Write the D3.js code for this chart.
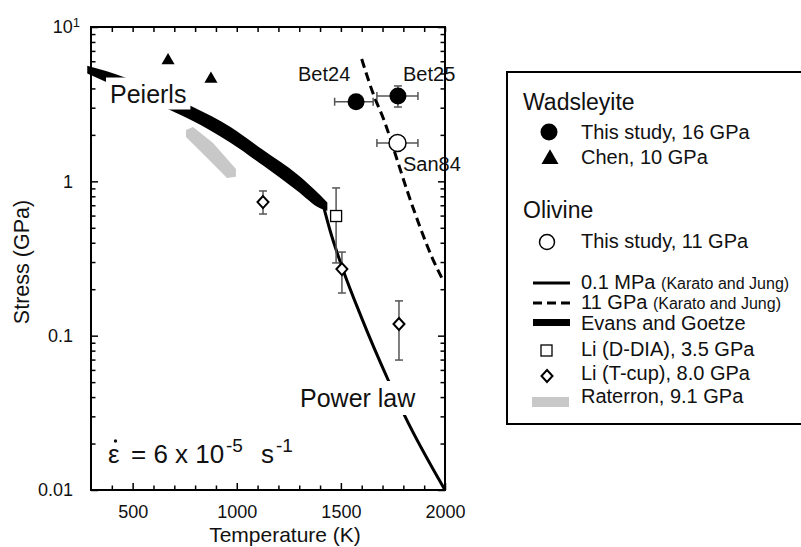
<!DOCTYPE html>
<html>
<head>
<meta charset="utf-8">
<script src="https://cdn.jsdelivr.net/npm/d3@7"></script>
<style>
  body { margin: 0; background: #fff; }
  svg { display: block; }
  text { font-family: "Liberation Sans", Arial, Helvetica, sans-serif; fill: #111; }
</style>
</head>
<body>
<svg id="chart" width="801" height="547"></svg>
<script>
// ---- data ----
const tempTicks = [500, 1000, 1500, 2000];
const tempMinorTicks = [400, 600, 700, 800, 900, 1100, 1200, 1300, 1400, 1600, 1700, 1800, 1900];
const stressTicks = [0.01, 0.1, 1, 10];
const stressTickLabels = ["0.01", "0.1", "1", "10"];

// Wadsleyite, this study (16 GPa)
const wadsThisStudy = [
  { name: "Bet24", T: 1573, s: 3.28, tLo: 1470, tHi: 1655 },
  { name: "Bet25", T: 1774, s: 3.57, tLo: 1673, tHi: 1870, sLo: 3.03, sHi: 4.15 }
];
// Wadsleyite, Chen (10 GPa)
const wadsChen = [[670, 6.07], [876, 4.6]];
// Olivine, this study (11 GPa)
const olivThisStudy = [{ name: "San84", T: 1772, s: 1.77, tLo: 1673, tHi: 1870 }];
// Karato and Jung flow laws
const kj01MPa = [[1415, 0.70], [1448, 0.48], [1505, 0.28], [1600, 0.13], [1726, 0.052], [1808, 0.030], [2000, 0.010]];
const kj11GPa = [[1600, 6.2], [1654, 3.73], [1712, 2.39], [1760, 1.52], [1817, 0.88], [1880, 0.506], [1937, 0.323], [1985, 0.236]];
// Evans and Goetze (Peierls) band
const egT    = [282, 470, 630, 785, 970, 1125, 1290, 1400, 1435];
const egHigh = [5.6, 4.68, 3.8, 3.05, 2.25, 1.6, 1.11, 0.815, 0.73];
const egLow  = [5.0, 3.86, 3.10, 2.48, 1.78, 1.27, 0.87, 0.67, 0.645];
// Li (D-DIA, 3.5 GPa) and Li (T-cup, 8.0 GPa)
const liDDIA = [{ T: 1477, s: 0.596, sLo: 0.296, sHi: 0.906 }];
const liTcup = [
  { T: 1126, s: 0.734, sLo: 0.614, sHi: 0.866 },
  { T: 1505, s: 0.27,  sLo: 0.189, sHi: 0.348 },
  { T: 1779, s: 0.119, sLo: 0.0695, sHi: 0.168 }
];
// Raterron (9.1 GPa) band outline
const raterronOutline = [[756, 2.15], [790, 2.25], [886, 1.77], [996, 1.20], [996, 1.07], [953, 1.05], [857, 1.42], [756, 1.94]];

// ---- layout ----
const svg = d3.select("#chart");
const x = d3.scaleLinear().domain([300, 2000]).range([91, 445]);
const y = d3.scaleLog().domain([0.01, 10]).range([490, 27]);
const stressMinor = [];
[0.01, 0.1, 1].forEach(dec => { for (let k = 2; k <= 9; k++) stressMinor.push(+(dec * k).toPrecision(3)); });

const plot = svg.append("g");

// Evans and Goetze band
const egData = egT.map((t, i) => ({ t, hi: egHigh[i], lo: egLow[i] }));
plot.append("path")
  .datum(egData)
  .attr("d", d3.area().curve(d3.curveMonotoneX).x(d => x(d.t)).y0(d => y(d.lo)).y1(d => y(d.hi)))
  .attr("fill", "#000");

// Raterron band
plot.append("path")
  .attr("d", d3.line().x(d => x(d[0])).y(d => y(d[1]))(raterronOutline) + "Z")
  .attr("fill", "#c8c8c8");

const line = d3.line().curve(d3.curveMonotoneX).x(d => x(d[0])).y(d => y(d[1]));
plot.append("path").attr("d", line(kj01MPa))
  .attr("fill", "none").attr("stroke", "#000").attr("stroke-width", 3);
plot.append("path").attr("d", line(kj11GPa))
  .attr("fill", "none").attr("stroke", "#000").attr("stroke-width", 3)
  .attr("stroke-dasharray", "9,5");

// labels with white backing boxes
function boxedLabel(txt, tx, ty, size, padX, padY) {
  const g = plot.append("g");
  const r = g.append("rect").attr("fill", "#fff");
  const t = g.append("text").attr("x", tx).attr("y", ty).attr("font-size", size).text(txt);
  const b = t.node().getBBox();
  r.attr("x", b.x - padX).attr("y", b.y - padY).attr("width", b.width + 2 * padX).attr("height", b.height + 2 * padY);
}
boxedLabel("Peierls", 110, 102.5, 25, 4, 2);
boxedLabel("Power law", 300, 407, 25, 3, 3);

// error bars
const eb = plot.append("g").attr("stroke", "#555").attr("stroke-width", 1.5).attr("fill", "none");
const cap = 4;
function xErr(d) {
  const yy = y(d.s);
  eb.append("line").attr("x1", x(d.tLo)).attr("x2", x(d.tHi)).attr("y1", yy).attr("y2", yy);
  [d.tLo, d.tHi].forEach(t => eb.append("line").attr("x1", x(t)).attr("x2", x(t)).attr("y1", yy - cap).attr("y2", yy + cap));
}
function yErr(d) {
  const xx = x(d.T);
  eb.append("line").attr("x1", xx).attr("x2", xx).attr("y1", y(d.sLo)).attr("y2", y(d.sHi));
  [d.sLo, d.sHi].forEach(s => eb.append("line").attr("x1", xx - cap).attr("x2", xx + cap).attr("y1", y(s)).attr("y2", y(s)));
}
wadsThisStudy.forEach(d => { xErr(d); if (d.sLo) yErr(d); });
olivThisStudy.forEach(xErr);
liDDIA.forEach(yErr);
liTcup.forEach(yErr);

// markers
const tri = d3.symbol().type(d3.symbolTriangle);
plot.selectAll(".chen").data(wadsChen).enter().append("path")
  .attr("d", tri.size(74)()).attr("transform", d => `translate(${x(d[0])},${y(d[1])})`).attr("fill", "#000");
plot.selectAll(".wads").data(wadsThisStudy).enter().append("circle")
  .attr("cx", d => x(d.T)).attr("cy", d => y(d.s)).attr("r", 8.5).attr("fill", "#000");
plot.selectAll(".oliv").data(olivThisStudy).enter().append("circle")
  .attr("cx", d => x(d.T)).attr("cy", d => y(d.s)).attr("r", 8.5)
  .attr("fill", "#fff").attr("stroke", "#000").attr("stroke-width", 1.5);
plot.selectAll(".sq").data(liDDIA).enter().append("rect")
  .attr("x", d => x(d.T) - 5.5).attr("y", d => y(d.s) - 5.5).attr("width", 11).attr("height", 11)
  .attr("fill", "#fff").attr("stroke", "#000").attr("stroke-width", 1.3);
const diamond = "M0,-6L5.5,0L0,6L-5.5,0Z";
plot.selectAll(".dia").data(liTcup).enter().append("path")
  .attr("d", diamond).attr("transform", d => `translate(${x(d.T)},${y(d.s)})`)
  .attr("fill", "#fff").attr("stroke", "#000").attr("stroke-width", 2);

// sample names
plot.append("text").attr("x", 298).attr("y", 81).attr("font-size", 20).text("Bet24");
plot.append("text").attr("x", 403).attr("y", 81).attr("font-size", 20).text("Bet25");
plot.append("text").attr("x", 403).attr("y", 171).attr("font-size", 20).text("San84");

// strain rate (epsilon with a rate dot drawn above it)
const sr = plot.append("g");
sr.append("circle").attr("cx", 115.5).attr("cy", 441).attr("r", 1.7).attr("fill", "#111");
const srt = sr.append("text").attr("x", 108).attr("y", 463).attr("font-size", 26);
srt.append("tspan").text("\u03B5");
srt.append("tspan").attr("x", 131).text("= 6 x 10");
srt.append("tspan").attr("x", 226).attr("dy", -11).attr("font-size", 19).text("-5");
srt.append("tspan").attr("x", 261).attr("dy", 11).text("s");
srt.append("tspan").attr("x", 276).attr("dy", -11).attr("font-size", 19).text("-1");

// ---- axes ----
function styleAxis(g) {
  g.select(".domain").remove();
  g.selectAll(".tick line").attr("stroke", "#000").attr("stroke-width", 1.5);
  g.selectAll(".tick text").attr("font-size", 18).attr("fill", "#111")
    .attr("font-family", "'Liberation Sans', Arial, sans-serif");
}
svg.append("g").attr("transform", "translate(0,490)")
  .call(d3.axisBottom(x).tickValues(tempTicks).tickSizeInner(-7).tickSizeOuter(0).tickPadding(15).tickFormat(d3.format("d")))
  .call(styleAxis);
svg.append("g").attr("transform", "translate(0,490)")
  .call(d3.axisBottom(x).tickValues(tempMinorTicks).tickSizeInner(-4.5).tickSizeOuter(0).tickFormat(""))
  .call(styleAxis);
svg.append("g").attr("transform", "translate(0,27)")
  .call(d3.axisTop(x).tickValues(tempTicks.concat(tempMinorTicks)).tickSizeInner(-5).tickSizeOuter(0).tickFormat(""))
  .call(styleAxis);

const yLeft = svg.append("g").attr("transform", "translate(91,0)")
  .call(d3.axisLeft(y).tickValues(stressTicks).tickSizeInner(-7).tickSizeOuter(0).tickPadding(18)
    .tickFormat((d, i) => stressTickLabels[i]))
  .call(styleAxis);
yLeft.selectAll(".tick text").filter(d => d === 10).each(function () {
  const t = d3.select(this).attr("x", -11);
  t.append("tspan").attr("font-size", 13).attr("dy", "-0.45em").text("1");
});
svg.append("g").attr("transform", "translate(91,0)")
  .call(d3.axisLeft(y).tickValues(stressMinor).tickSizeInner(-4.5).tickSizeOuter(0).tickFormat(""))
  .call(styleAxis);
svg.append("g").attr("transform", "translate(445,0)")
  .call(d3.axisRight(y).tickValues(stressTicks).tickSizeInner(-7).tickSizeOuter(0).tickFormat(""))
  .call(styleAxis);
svg.append("g").attr("transform", "translate(445,0)")
  .call(d3.axisRight(y).tickValues(stressMinor).tickSizeInner(-4.5).tickSizeOuter(0).tickFormat(""))
  .call(styleAxis);

// frame
svg.append("rect").attr("x", x(300)).attr("y", y(10)).attr("width", x(2000) - x(300)).attr("height", y(0.01) - y(10))
  .attr("fill", "none").attr("stroke", "#000").attr("stroke-width", 2);

// axis titles
svg.append("text").attr("x", 285).attr("y", 542).attr("text-anchor", "middle").attr("font-size", 21).text("Temperature (K)");
svg.append("text").attr("transform", "translate(29,262) rotate(-90)").attr("text-anchor", "middle").attr("font-size", 21.5).text("Stress (GPa)");

// ---- legend ----
const lg = svg.append("g");
lg.append("rect").attr("x", 507).attr("y", 72).attr("width", 320).attr("height", 352)
  .attr("fill", "#fff").attr("stroke", "#000").attr("stroke-width", 2);
const mx = 549, tx = 581;
lg.append("text").attr("x", 523).attr("y", 110).attr("font-size", 23).text("Wadsleyite");
lg.append("circle").attr("cx", mx).attr("cy", 132).attr("r", 8.5).attr("fill", "#000");
lg.append("text").attr("x", tx).attr("y", 139).attr("font-size", 20).text("This study, 16 GPa");
lg.append("path").attr("d", tri.size(125)()).attr("transform", `translate(${mx + 1},159)`).attr("fill", "#000");
lg.append("text").attr("x", tx).attr("y", 164).attr("font-size", 20).text("Chen, 10 GPa");

lg.append("text").attr("x", 523).attr("y", 218).attr("font-size", 23).text("Olivine");
lg.append("circle").attr("cx", mx - 2).attr("cy", 242).attr("r", 7.5).attr("fill", "#fff").attr("stroke", "#000").attr("stroke-width", 1.5);
lg.append("text").attr("x", tx).attr("y", 248).attr("font-size", 20).text("This study, 11 GPa");

lg.append("line").attr("x1", 533).attr("x2", 570).attr("y1", 283).attr("y2", 283).attr("stroke", "#000").attr("stroke-width", 3);
const t1 = lg.append("text").attr("x", tx).attr("y", 289).attr("font-size", 20).text("0.1 MPa ");
t1.append("tspan").attr("font-size", 16).text("(Karato and Jung)");
lg.append("line").attr("x1", 533).attr("x2", 570).attr("y1", 303).attr("y2", 303).attr("stroke", "#000").attr("stroke-width", 3).attr("stroke-dasharray", "9,5");
const t2 = lg.append("text").attr("x", tx).attr("y", 309).attr("font-size", 20).text("11 GPa ");
t2.append("tspan").attr("font-size", 16).text("(Karato and Jung)");
lg.append("rect").attr("x", 533).attr("y", 319).attr("width", 37).attr("height", 7).attr("fill", "#000");
lg.append("text").attr("x", tx).attr("y", 330).attr("font-size", 20).text("Evans and Goetze");
lg.append("rect").attr("x", mx - 8).attr("y", 345).attr("width", 11).attr("height", 11)
  .attr("fill", "#fff").attr("stroke", "#000").attr("stroke-width", 1.3);
lg.append("text").attr("x", tx).attr("y", 356).attr("font-size", 20).text("Li (D-DIA), 3.5 GPa");
lg.append("path").attr("d", diamond).attr("transform", `translate(${mx - 2},376)`)
  .attr("fill", "#fff").attr("stroke", "#000").attr("stroke-width", 2);
lg.append("text").attr("x", tx).attr("y", 380).attr("font-size", 20).text("Li (T-cup), 8.0 GPa");
lg.append("rect").attr("x", 532).attr("y", 397).attr("width", 37).attr("height", 10).attr("fill", "#c8c8c8");
lg.append("text").attr("x", tx).attr("y", 403).attr("font-size", 20).text("Raterron, 9.1 GPa");
</script>
</body>
</html>
